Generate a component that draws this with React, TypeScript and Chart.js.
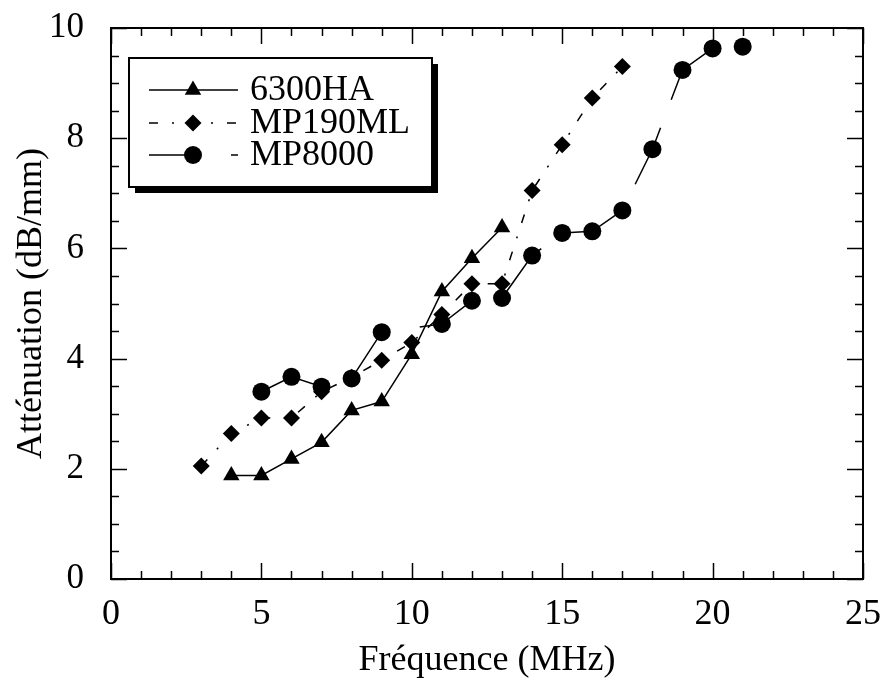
import React, { useEffect, useRef } from 'react';
import { Chart, registerables } from 'chart.js';

Chart.register(...registerables);

// ---- Data ----
const freq6300HA = [4, 5, 6, 7, 8, 9, 10, 11, 12, 13];
const att6300HA = [1.88, 1.88, 2.18, 2.48, 3.06, 3.22, 4.08, 5.22, 5.82, 6.38];

const freqMP190ML = [3, 4, 5, 6, 7, 8, 9, 10, 11, 12, 13, 14, 15, 16, 17];
const attMP190ML = [2.05, 2.64, 2.92, 2.92, 3.4, 3.66, 3.97, 4.29, 4.8, 5.36, 5.36, 7.05, 7.88, 8.73, 9.3];

const freqMP8000 = [5, 6, 7, 8, 9, 11, 12, 13, 14, 15, 16, 17, 18, 19, 20, 21];
const attMP8000 = [3.4, 3.67, 3.49, 3.64, 4.48, 4.63, 5.05, 5.1, 5.87, 6.28, 6.31, 6.69, 7.8, 9.24, 9.63, 9.66];

const seriesLabels = ['6300HA', 'MP190ML', 'MP8000'];

const xTitle = 'Fréquence (MHz)';
const yTitle = 'Atténuation (dB/mm)';

const FONT = '"Liberation Serif", "Times New Roman", serif';

function toPoints(xs: number[], ys: number[]) {
  return xs.map((x, i) => ({ x, y: ys[i] }));
}

function drawMarker(ctx: CanvasRenderingContext2D, style: string, x: number, y: number, r: number) {
  ctx.beginPath();
  if (style === 'triangle') {
    let rad = 0;
    ctx.moveTo(x + Math.sin(rad) * r, y - Math.cos(rad) * r);
    rad += (2 * Math.PI) / 3;
    ctx.lineTo(x + Math.sin(rad) * r, y - Math.cos(rad) * r);
    rad += (2 * Math.PI) / 3;
    ctx.lineTo(x + Math.sin(rad) * r, y - Math.cos(rad) * r);
    ctx.closePath();
  } else if (style === 'rectRot') {
    ctx.moveTo(x, y - r);
    ctx.lineTo(x + r, y);
    ctx.lineTo(x, y + r);
    ctx.lineTo(x - r, y);
    ctx.closePath();
  } else {
    ctx.arc(x, y, r, 0, Math.PI * 2);
  }
  ctx.fill();
}

const frameTicksPlugin = {
  id: 'frameTicks',
  beforeDatasetsDraw(chart: any) {
    const { ctx, chartArea } = chart;
    const { left, right, top, bottom } = chartArea;
    const xs = chart.scales.x;
    const ys = chart.scales.y;
    ctx.save();
    ctx.strokeStyle = '#000';
    ctx.lineWidth = 1.5;
    ctx.beginPath();
    for (let v = xs.min; v <= xs.max + 1e-9; v += 1) {
      const px = Math.round(xs.getPixelForValue(v)) + 0.5;
      const len = Math.abs(v % 5) < 1e-9 ? 16 : 8;
      ctx.moveTo(px, bottom);
      ctx.lineTo(px, bottom - len);
      ctx.moveTo(px, top);
      ctx.lineTo(px, top + len);
    }
    for (let v = ys.min; v <= ys.max + 1e-9; v += 0.5) {
      const py = Math.round(ys.getPixelForValue(v)) + 0.5;
      const len = Math.abs(v % 2) < 1e-9 ? 16 : 8;
      ctx.moveTo(left, py);
      ctx.lineTo(left + len, py);
      ctx.moveTo(right, py);
      ctx.lineTo(right - len, py);
    }
    ctx.stroke();
    ctx.lineWidth = 2;
    ctx.strokeRect(left, top, right - left, bottom - top);
    ctx.restore();
  },
};

const boxLegendPlugin = {
  id: 'boxLegend',
  afterDatasetsDraw(chart: any) {
    const ctx: CanvasRenderingContext2D = chart.ctx;
    const bx = 129, by = 58, bw = 303, bh = 129, sh = 6;
    const rowsY = [90, 123, 155];
    const lineX0 = 149, lineX1 = 238, markX = 193, textX = 250;
    ctx.save();
    ctx.fillStyle = '#000';
    ctx.fillRect(bx + sh, by + sh, bw, bh);
    ctx.fillStyle = '#fff';
    ctx.fillRect(bx, by, bw, bh);
    ctx.strokeStyle = '#000';
    ctx.lineWidth = 2;
    ctx.strokeRect(bx, by, bw, bh);
    chart.data.datasets.forEach((ds: any, i: number) => {
      const y = rowsY[i];
      ctx.strokeStyle = '#000';
      ctx.lineWidth = ds.borderWidth;
      ctx.setLineDash(ds.borderDash || []);
      ctx.lineDashOffset = ds.legendDashOffset || 0;
      ctx.beginPath();
      ctx.moveTo(lineX0, y);
      ctx.lineTo(lineX1, y);
      ctx.stroke();
      ctx.setLineDash([]);
      ctx.fillStyle = '#000';
      drawMarker(ctx, ds.pointStyle, markX, y, ds.pointRadius);
      ctx.font = `36px ${FONT}`;
      ctx.textBaseline = 'middle';
      ctx.textAlign = 'left';
      ctx.fillText(ds.label, textX, y + 1);
    });
    ctx.restore();
  },
};

export default function App() {
  const canvasRef = useRef<HTMLCanvasElement | null>(null);

  useEffect(() => {
    if (!canvasRef.current) return;
    const chart = new Chart(canvasRef.current, {
      type: 'scatter',
      data: {
        datasets: [
          {
            label: seriesLabels[0],
            data: toPoints(freq6300HA, att6300HA),
            showLine: true,
            borderColor: '#000',
            backgroundColor: '#000',
            borderWidth: 1.5,
            pointStyle: 'triangle',
            pointRadius: 9.5,
            pointBorderWidth: 0,
          },
          {
            label: seriesLabels[1],
            data: toPoints(freqMP190ML, attMP190ML),
            showLine: true,
            borderColor: '#000',
            backgroundColor: '#000',
            borderWidth: 1.5,
            borderDash: [9, 14, 2, 14],
            legendDashOffset: 0,
            pointStyle: 'rectRot',
            pointRadius: 8.5,
            pointBorderWidth: 0,
          },
          {
            label: seriesLabels[2],
            data: toPoints(freqMP8000, attMP8000),
            showLine: true,
            borderColor: '#000',
            backgroundColor: '#000',
            borderWidth: 1.5,
            borderDash: [62, 30],
            borderDashOffset: 86,
            legendDashOffset: 10,
            pointStyle: 'circle',
            pointRadius: 9,
            pointBorderWidth: 0,
          },
        ] as any,
      },
      options: {
        animation: false,
        responsive: false,
        maintainAspectRatio: false,
        layout: { padding: { top: 28, right: 24, left: 0, bottom: 0 } },
        plugins: {
          legend: { display: false },
          tooltip: { enabled: false },
        },
        scales: {
          x: {
            type: 'linear',
            min: 0,
            max: 25,
            grid: { display: false },
            border: { display: false },
            ticks: {
              stepSize: 5,
              color: '#000',
              padding: 6,
              font: { family: FONT, size: 36 },
              maxRotation: 0,
            },
            title: {
              display: true,
              text: xTitle,
              color: '#000',
              font: { family: FONT, size: 36 },
              padding: { top: 0, bottom: 0 },
            },
            afterFit(scale: any) {
              scale.height = 103;
              scale.paddingLeft = 0;
              scale.paddingRight = 0;
            },
          },
          y: {
            type: 'linear',
            min: 0,
            max: 10,
            grid: { display: false },
            border: { display: false },
            ticks: {
              stepSize: 2,
              color: '#000',
              padding: 19,
              font: { family: FONT, size: 35 },
            },
            title: {
              display: true,
              text: yTitle,
              color: '#000',
              font: { family: FONT, size: 36 },
              padding: { top: 10, bottom: 0 },
            },
            afterFit(scale: any) {
              scale.width = 111;
              scale.paddingTop = 0;
              scale.paddingBottom = 0;
            },
          },
        },
      } as any,
      plugins: [frameTicksPlugin, boxLegendPlugin],
    });
    return () => chart.destroy();
  }, []);

  return (
    <div style={{ position: 'absolute', left: 0, top: 0, width: 887, height: 682, background: '#fff' }}>
      <canvas ref={canvasRef} width={887} height={682} style={{ width: 887, height: 682, display: 'block' }} />
    </div>
  );
}
